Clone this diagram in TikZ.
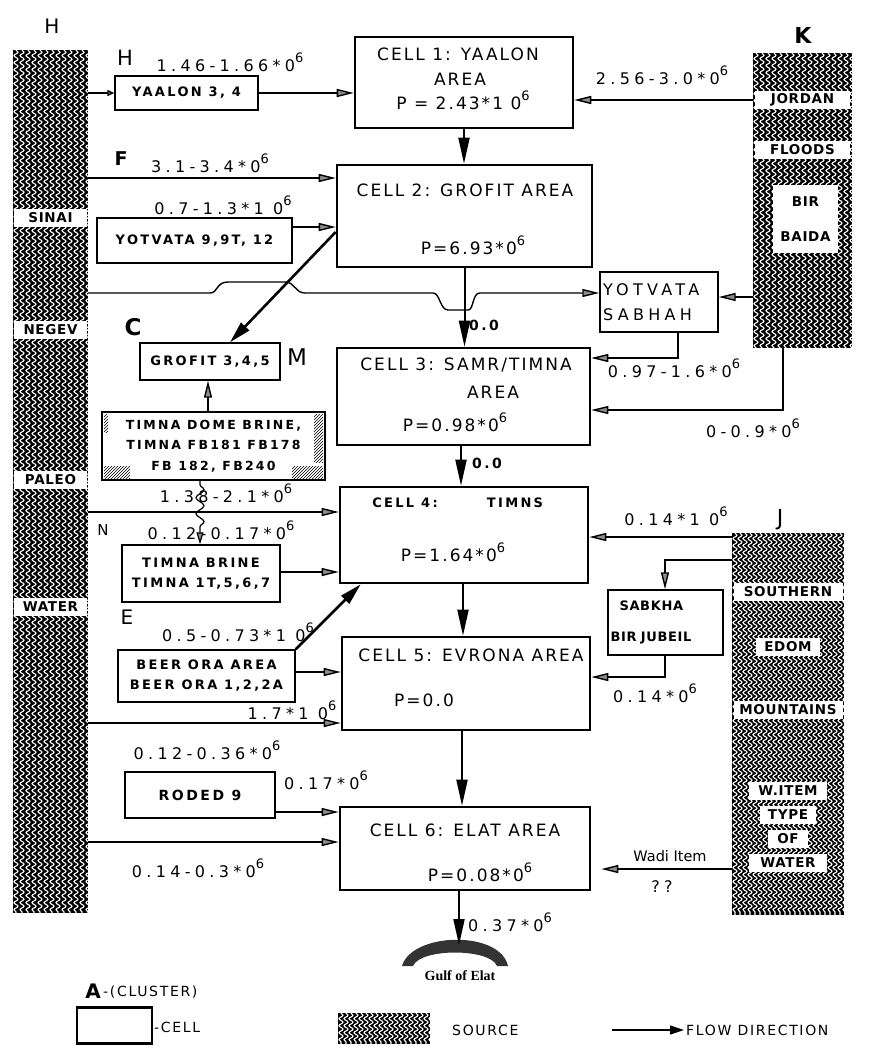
\documentclass[tikz,border=0pt]{standalone}
\usepackage{fontspec}
\setmainfont{DejaVu Sans}
\newfontfamily\pf[LetterSpace=12]{DejaVu Sans}
\newfontfamily\lf[LetterSpace=27]{DejaVu Sans}
\newfontfamily\bfnt[LetterSpace=18]{DejaVu Sans}
\newfontfamily\sfnt[LetterSpace=5]{DejaVu Sans}
\newfontfamily\gulffont{Liberation Serif}
\usetikzlibrary{arrows.meta,decorations.pathmorphing,patterns,calc}
\newcommand\sixp{\raisebox{9pt}{\fontsize{13}{13}\selectfont 6}}
\newcommand\wavefill[5]{%
  \begin{scope}
    \clip (#1,#2) rectangle (#3,#4);
    \pgfmathtruncatemacro\nw{(#3-#1)/#5}
    \foreach \i in {0,...,\nw}{
      \pgfmathsetmacro\xx{#1+3+#5*\i}
      \draw[white, line width=1.1pt, decorate, decoration={snake, segment length=7pt, amplitude=2pt}] (\xx,#2) -- (\xx,#4);
    }
  \end{scope}}
\tikzset{
  cell/.style={draw, line width=2.6pt, inner sep=0},
  ctext/.style={font=\pf\fontsize{17}{19}\selectfont, inner sep=0},
  box/.style={draw, line width=1.4pt, inner sep=0},
  btext/.style={font=\bfnt\bfseries\fontsize{13}{20}\selectfont, inner sep=0, align=center},
  src/.style={fill=black, inner sep=0},
  slab/.style={fill=white, font=\sfnt\bfseries\fontsize{13.5}{14}\selectfont, inner sep=2pt, minimum height=18pt},
  lab/.style={font=\lf\fontsize{16}{17}\selectfont, inner sep=0},
  flow/.style={line width=1.4pt, -{Triangle[length=17pt,width=8pt,fill=black!45]}},
  bigflow/.style={line width=2pt, -{Triangle[length=26pt,width=11pt]}},
  diag/.style={line width=2.6pt, -{Triangle[length=22pt,width=11pt]}},
  ltr/.style={inner sep=0},
}
\begin{document}
\begin{tikzpicture}[x=1pt,y=-1pt]
\useasboundingbox (0,0) rectangle (894,1046);

% ---------- sources ----------
\node[src, minimum width=75pt, minimum height=863pt] (L) at (50.5,481.5) {};
\wavefill{13}{50}{88}{913}{6}
\node[src, minimum width=99pt, minimum height=295pt] (K) at (802.5,200.5) {};
\wavefill{753}{53}{852}{348}{6}
\node[src, minimum width=112pt, minimum height=382pt] (J) at (788,724) {};
\wavefill{732}{533}{844}{915}{5}

\node[slab, minimum width=73pt] (ls1) at (50.5,218) {SINAI};
\node[slab, minimum width=73pt] (ls2) at (50.5,330) {NEGEV};
\node[slab, minimum width=73pt] (ls3) at (50.5,480) {PALEO};
\node[slab, minimum width=73pt] (ls4) at (50.5,607) {WATER};

\node[slab, minimum width=95pt] (ks1) at (802.5,100) {JORDAN};
\node[slab, minimum width=95pt] (ks2) at (802.5,150) {FLOODS};
\node[slab, minimum width=65pt, minimum height=68pt, align=center, font=\sfnt\bfseries\fontsize{13.5}{35}\selectfont] (ks3) at (805.5,219) {BIR\\BAIDA};

\node[slab, minimum width=109pt] (js1) at (788,592) {SOUTHERN};
\node[slab, minimum width=64pt] (js2) at (788,647) {EDOM};
\node[slab, minimum width=109pt] (js3) at (788,710) {MOUNTAINS};
\node[slab, minimum width=78pt] (js4) at (788,791) {W.ITEM};
\node[slab, minimum width=56pt] (js5) at (788,815) {TYPE};
\node[slab, minimum width=40pt] (js6) at (788,839) {OF};
\node[slab, minimum width=78pt] (js7) at (788,863) {WATER};

% ---------- cells ----------
\node[cell, minimum width=218pt, minimum height=91pt] (C1) at (464,82.5) {};
\node[cell, minimum width=255pt, minimum height=102pt] (C2) at (464.5,216) {};
\node[cell, minimum width=253pt, minimum height=97pt] (C3) at (463.5,396.5) {};
\node[cell, minimum width=248pt, minimum height=96pt] (C4) at (464,535) {};
\node[cell, minimum width=248pt, minimum height=93pt] (C5) at (466,683.5) {};
\node[cell, minimum width=250pt, minimum height=83pt] (C6) at (465,848.5) {};

\node[ctext] (c1a) at (458,54) {CELL 1: YAALON};
\node[ctext] (c1b) at (460,79) {AREA};
\node[ctext] (c1c) at (463,100) {P = 2.43*1 0\sixp};
\node[ctext] (c2a) at (465,190) {CELL 2: GROFIT AREA};
\node[ctext] (c2b) at (473,245) {P=6.93*0\sixp};
\node[ctext] (c3a) at (466,365) {CELL 3: SAMR/TIMNA};
\node[ctext] (c3b) at (493,392) {AREA};
\node[ctext] (c3c) at (455,422) {P=0.98*0\sixp};
\node[btext] (c4a) at (405,503) {CELL 4:};
\node[btext] (c4b) at (515,503) {TIMNS};
\node[ctext] (c4c) at (453,552) {P=1.64*0\sixp};
\node[ctext] (c5a) at (471,655) {CELL 5: EVRONA AREA};
\node[ctext] (c5b) at (424,700) {P=0.0};
\node[ctext] (c6a) at (465,830) {CELL 6: ELAT AREA};
\node[ctext] (c6b) at (480,872) {P=0.08*0\sixp};

% ---------- wells / boxes ----------
\node[box, minimum width=143pt, minimum height=34pt, btext] (Y) at (186.5,93) {YAALON 3, 4};
\node[box, minimum width=195pt, minimum height=45pt, btext] (YOT) at (194.5,240.5) {YOTVATA 9,9T, 12};
\node[box, minimum width=140pt, minimum height=37pt, btext] (GRO) at (210,361.5) {GROFIT 3,4,5};
\node[box, minimum width=223pt, minimum height=68pt, btext, font=\bfnt\bfseries\fontsize{12.5}{20.5}\selectfont] (TD) at (213.5,446) {TIMNA DOME BRINE,\\TIMNA FB181 FB178\\FB 182, FB240};
\fill[pattern=north east lines] (104,466) rectangle (130,478);
\fill[pattern=north east lines] (292,466) rectangle (323,478);
\fill[pattern=north east lines] (314,414) rectangle (323,462);
\fill[pattern=north east lines] (104,414) rectangle (108,432);
\node[box, minimum width=158pt, minimum height=57pt, btext] (TB) at (201,573.5) {TIMNA BRINE\\TIMNA 1T,5,6,7};
\node[box, minimum width=177pt, minimum height=52pt, btext] (BO) at (206.5,676) {BEER ORA AREA\\BEER ORA 1,2,2A};
\node[box, minimum width=150pt, minimum height=46pt, btext, font=\bfnt\bfseries\fontsize{14}{20}\selectfont] (R) at (200,795) {RODED 9};
\node[box, minimum width=118pt, minimum height=60pt, text width=112pt, align=left, font=\lf\fontsize{16}{25}\selectfont] (YS) at (659,302) {YOTVATA\\SABHAH};
\node[box, minimum width=115pt, minimum height=65pt, text width=110pt, align=left, font=\sfnt\bfseries\fontsize{13}{31}\selectfont] (SB) at (665.5,622.5) {\hspace*{9pt}SABKHA\\BIR\ JUBEIL};

% ---------- letters ----------
\node[ltr, font=\fontsize{20}{20}\selectfont] (hH1) at (52,26) {H};
\node[ltr, font=\bfseries\fontsize{22}{22}\selectfont] (hK) at (803,35) {K};
\node[ltr, font=\fontsize{22}{22}\selectfont] (hJ) at (780,520) {J};
\node[ltr, font=\fontsize{21}{21}\selectfont] (hH2) at (125,58) {H};
\node[ltr, font=\bfseries\fontsize{19}{19}\selectfont] (hF) at (121,159) {F};
\node[ltr, font=\bfseries\fontsize{23}{23}\selectfont] (hC) at (133,327) {C};
\node[ltr, font=\fontsize{23}{23}\selectfont] (hM) at (297,357) {M};
\node[ltr, font=\fontsize{15}{15}\selectfont] (hN) at (103,530) {N};
\node[ltr, font=\fontsize{20}{20}\selectfont] (hE) at (127,617) {E};

% ---------- flow labels ----------
\node[lab] (l1) at (230,62) {1.46-1.66*0\sixp};
\node[lab] (l2) at (210,163) {3.1-3.4*0\sixp};
\node[lab] (l3) at (223,205) {0.7-1.3*1 0\sixp};
\node[lab] (l4) at (662,75) {2.56-3.0*0\sixp};
\node[lab] (l5) at (674,368) {0.97-1.6*0\sixp};
\node[lab] (l6) at (753,428) {0-0.9*0\sixp};
\node[lab] (l7) at (226,493) {1.38-2.1*0\sixp};
\node[lab] (l8) at (221,530) {0.12-0.17*0\sixp};
\node[lab] (l9) at (238,632) {0.5-0.73*1 0\sixp};
\node[lab] (l10) at (292,710) {1.7*1 0\sixp};
\node[lab] (l11) at (207,750) {0.12-0.36*0\sixp};
\node[lab] (l12) at (326,780) {0.17*0\sixp};
\node[lab] (l13) at (198,868) {0.14-0.3*0\sixp};
\node[lab] (l14) at (676,516) {0.14*1 0\sixp};
\node[lab] (l15) at (655,693) {0.14*0\sixp};
\node[lab] (l16) at (510,922) {0.37*0\sixp};
\node[lab, font=\fontsize{14.5}{15}\selectfont] (l17) at (670,856) {Wadi Item};
\node[lab] (l18) at (662,887) {??};
\node[btext, font=\bfnt\bfseries\fontsize{14}{15}\selectfont] (z1) at (484,325) {0.0};
\node[btext, font=\bfnt\bfseries\fontsize{14}{15}\selectfont] (z2) at (487,463) {0.0};

% ---------- connectors ----------
\draw[line width=1.4pt, -{Triangle[length=7pt,width=6pt,fill=black!45]}] (L.east |- Y.west) -- (Y.west);
\draw[flow] (Y.east) -- (C1.west |- Y.east);
\draw[flow] (K.west |- 0,100) -- (C1.east |- 0,100);
\draw[flow] (L.east |- 0,178) -- (C2.west |- 0,178);
\draw[flow] (YOT.east |- 0,227) -- (C2.west |- 0,227);
\draw[bigflow] (C1.south) -- (C1.south |- C2.north);
\draw[diag] (C2.west |- 0,232) -- ($(GRO.north)+(20,0)$);
\draw[flow] (L.east |- 0,293) -- (210,293) .. controls (218,293) and (216,282) .. (228,282) -- (285,282) .. controls (295,282) and (295,293) .. (305,293) -- (433,293) .. controls (440,293) and (440,310) .. (448,310) -- (468,310) .. controls (474,310) and (472,293) .. (480,293) -- (YS.west |- 0,293);
\draw[bigflow] (C2.south) -- (C2.south |- C3.north);
\draw[flow] (K.west |- 0,297) -- (YS.east |- 0,297);
\draw[flow] (YS.south -| 678,0) |- (C3.east |- 0,358);
\draw[flow] (K.south -| 783,0) |- (C3.east |- 0,410);
\draw[flow] (TD.north -| 208,0) -- (GRO.south -| 208,0);
\draw[bigflow] (C3.south -| 461,0) -- (C4.north -| 461,0);
\draw[flow] (L.east |- 0,512) -- (C4.west |- 0,512);
\draw[line width=1.2pt, decorate, decoration={snake, segment length=16pt, amplitude=4pt, pre length=4pt, post length=14pt}, -{Triangle[length=12pt,width=7pt,fill=black!45]}] (TD.south -| 200,0) -- (TB.north -| 200,0);
\draw[flow] (TB.east |- 0,572) -- (C4.west |- 0,572);
\draw[diag] (BO.north east) -- ($(C4.south west)+(22,0)$);
\draw[flow] (BO.east |- 0,672) -- (C5.west |- 0,672);
\draw[flow] (L.east |- 0,723) -- (C5.west |- 0,723);
\draw[bigflow] (C4.south -| 463,0) -- (C5.north -| 463,0);
\draw[flow] (J.west |- 0,537) -- (C4.east |- 0,537);
\draw[flow] (J.west |- 0,560) -| (SB.north -| 665,0);
\draw[flow] (SB.south -| 665,0) |- (C5.east |- 0,677);
\draw[bigflow] (C5.south -| 462,0) -- (C6.north -| 462,0);
\draw[flow] (R.east |- 0,812) -- (C6.west |- 0,812);
\draw[flow] (L.east |- 0,842) -- (C6.west |- 0,842);
\draw[flow] (J.west |- 0,869) -- ($(C6.east |- 0,869)+(10,0)$);

% ---------- gulf ----------
\coordinate (G) at (459,945);
\fill[black!80] (402,966) .. controls (412,932) and (500,930) .. (508,966) -- (497,966) .. controls (490,948) and (420,948) .. (413,966) -- cycle;
\draw[bigflow] (C6.south -| G) -- (G);
\node[inner sep=0, font=\gulffont\bfseries\fontsize{14}{15}\selectfont] (GL) at (460,976) {Gulf of Elat};

% ---------- legend ----------
\node[ltr, font=\bfseries\fontsize{20}{20}\selectfont] (lgA) at (93,991) {A};
\node[lab, anchor=west, font=\pf\fontsize{14}{15}\selectfont] (lgA2) at (103,992) {-(CLUSTER)};
\node[cell, minimum width=75pt, minimum height=36pt] (LC) at (114.5,1025.5) {};
\node[lab, anchor=west, font=\pf\fontsize{14}{15}\selectfont] (lgC) at (154,1027) {-CELL};
\node[src, minimum width=92pt, minimum height=31pt] (LS) at (384,1028.5) {};
\wavefill{338}{1013}{430}{1044}{5}
\node[lab, anchor=west, font=\pf\fontsize{14}{15}\selectfont] (lgS) at (452,1030) {SOURCE};
\coordinate (fa) at (612,1030);
\coordinate (fb) at (684,1030);
\draw[line width=1.4pt, -{Triangle[length=14pt,width=9pt]}] (fa) -- (fb);
\node[lab, anchor=west, font=\pf\fontsize{14}{15}\selectfont] (lgF) at (686,1030) {FLOW DIRECTION};
\end{tikzpicture}
\end{document}
